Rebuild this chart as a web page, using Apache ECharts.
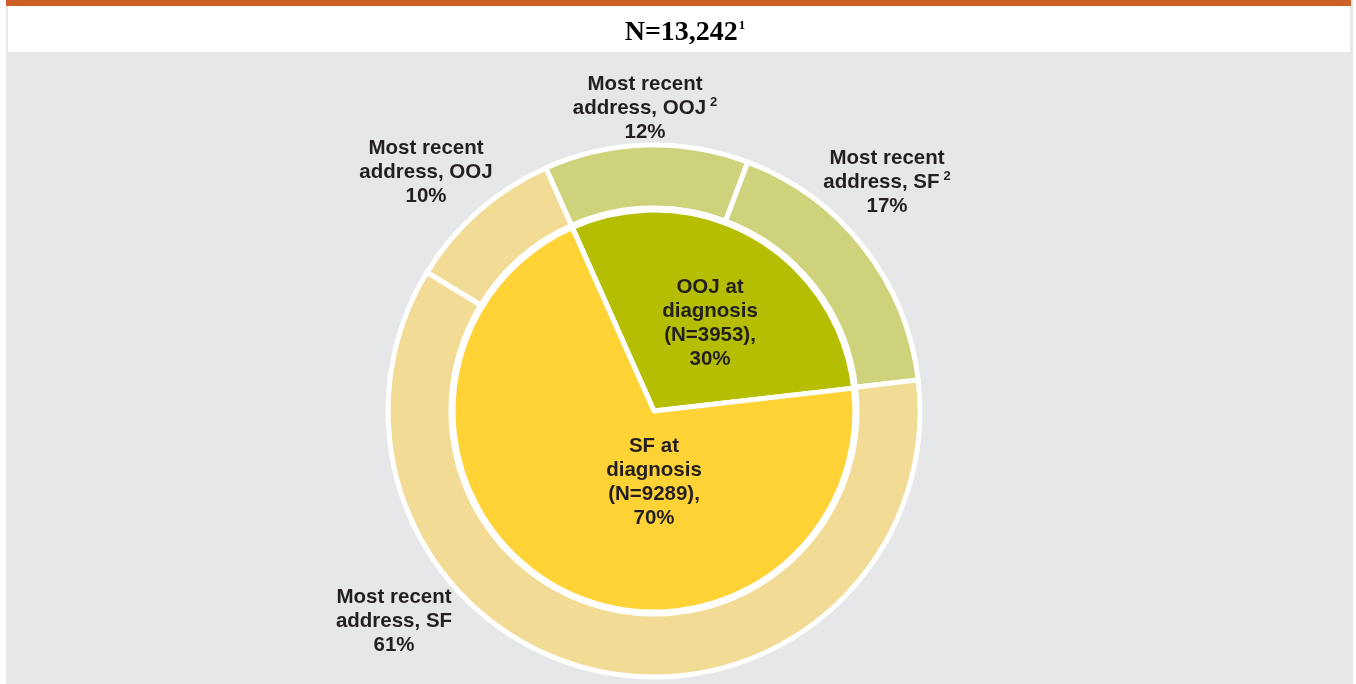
<!DOCTYPE html>
<html>
<head>
<meta charset="utf-8">
<script src="https://cdn.jsdelivr.net/npm/echarts@6/dist/echarts.min.js"></script>
<style>
  html, body { margin: 0; padding: 0; background: #ffffff; }
  #frame { position: absolute; left: 6px; top: 0; width: 1347px; height: 684px; background: #E6E7E9; }
  #bar { position: absolute; left: 6px; top: 0; width: 1345px; height: 6px; background: #CF5F29; }
  #band { position: absolute; left: 8px; top: 6px; width: 1342px; height: 46px; background: #ffffff; }
  #chart { position: absolute; left: 0; top: 0; width: 1356px; height: 684px; }
</style>
</head>
<body>
<div id="frame"></div>
<div id="bar"></div>
<div id="band"></div>
<div id="chart"></div>
<script>
// ---- data ----
const titleMain = 'N=13,242';
const titleSup = '1';
const innerNames = ['OOJ at\ndiagnosis', 'SF at\ndiagnosis'];
const innerCounts = [3953, 9289];
const innerPercents = [30, 70];
const outerNames = ['Most recent\naddress, OOJ', 'Most recent\naddress, SF', 'Most recent\naddress, SF', 'Most recent\naddress, OOJ'];
const outerNotes = ['2', '2', '', ''];
const outerValues = [12.4, 17.4, 60.6, 9.6];

// ---- styles / layout ----
const CX = 654, CY = 411;
const innerColors = ['#B5BE00', '#FFD336'];
const outerColors = ['#CED37B', '#CED37B', '#F2DC95', '#F2DC95'];
const innerLabelOffsets = [[56, -88], [0, 71]];
const outerLabelOffsets = [[-9, -303], [233, -229], [-260, 210], [-228, -239]];
const FONT = 'Liberation Sans, Arial, sans-serif';
const labelFont = { fontFamily: FONT, fontWeight: 'bold', fontSize: 20.5, lineHeight: 24, color: '#231F20' };
const supStyle = { fontFamily: FONT, fontWeight: 'bold', fontSize: 13, lineHeight: 24, color: '#231F20', verticalAlign: 'top', padding: [0, 0, 0, 4] };

const chart = echarts.init(document.getElementById('chart'), null, { renderer: 'canvas' });

const innerData = innerNames.map((n, i) => ({
  name: n, value: innerCounts[i], itemStyle: { color: innerColors[i] }
}));
const outerData = outerNames.map((n, i) => ({
  name: n, value: outerValues[i], itemStyle: { color: outerColors[i] }
}));

chart.setOption({
  animation: false,
  title: {
    text: '{m|' + titleMain + '}{s|' + titleSup + '}',
    left: 680, top: 12, textAlign: 'center',
    textStyle: {
      rich: {
        m: { fontFamily: 'Liberation Serif, Times New Roman, serif', fontWeight: 'bold', fontSize: 28, lineHeight: 32, color: '#000000' },
        s: { fontFamily: 'Liberation Serif, Times New Roman, serif', fontWeight: 'bold', fontSize: 13, lineHeight: 32, color: '#000000', verticalAlign: 'top', padding: [2, 0, 0, 1] }
      }
    }
  },
  series: [
    {
      type: 'pie',
      center: [CX, CY],
      radius: [0, 201],
      startAngle: 114,
      clockwise: true,
      avoidLabelOverlap: false,
      silent: true,
      data: innerData,
      itemStyle: { borderColor: '#ffffff', borderWidth: 5 },
      label: Object.assign({
        show: true, position: 'inside', align: 'center',
        formatter: p => p.name + '\n(N=' + p.value + '),\n' + innerPercents[p.dataIndex] + '%'
      }, labelFont),
      labelLine: { show: false },
      labelLayout: p => ({
        x: CX + innerLabelOffsets[p.dataIndex][0],
        y: CY + innerLabelOffsets[p.dataIndex][1],
        align: 'center', verticalAlign: 'middle'
      })
    },
    {
      type: 'pie',
      center: [CX, CY],
      radius: [203, 266],
      startAngle: 114,
      clockwise: true,
      avoidLabelOverlap: false,
      silent: true,
      data: outerData,
      itemStyle: { borderColor: '#ffffff', borderWidth: 5 },
      label: Object.assign({
        show: true, position: 'outside', align: 'center',
        formatter: p => {
          const lines = p.name.split('\n');
          const note = outerNotes[p.dataIndex];
          return lines.map((l, k) => '{t|' + l + '}' + (k === lines.length - 1 && note ? '{sup|' + note + '}' : '')).join('\n') +
            '\n{t|' + Math.round(p.value) + '%}';
        },
        rich: { t: Object.assign({ align: 'center' }, labelFont), sup: supStyle }
      }, labelFont),
      labelLine: { show: false },
      labelLayout: p => ({
        x: CX + outerLabelOffsets[p.dataIndex][0],
        y: CY + outerLabelOffsets[p.dataIndex][1],
        align: 'center', verticalAlign: 'middle'
      })
    }
  ]
});
</script>
</body>
</html>
